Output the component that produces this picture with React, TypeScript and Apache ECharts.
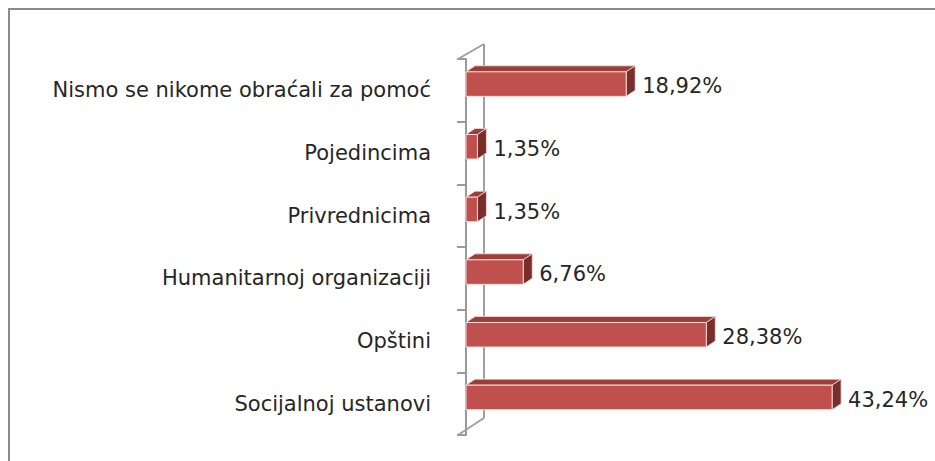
import React, { useEffect, useRef } from "react";
import * as echarts from "echarts";

const categories = [
  "Socijalnoj ustanovi",
  "Opštini",
  "Humanitarnoj organizaciji",
  "Privrednicima",
  "Pojedincima",
  "Nismo se nikome obraćali za pomoć",
];
const values = [43.24, 28.38, 6.76, 1.35, 1.35, 18.92];

const fmt = (v: number) => v.toFixed(2).replace(".", ",") + "%";

export default function App() {
  const ref = useRef<HTMLDivElement>(null);
  useEffect(() => {
    if (!ref.current) return;
    const chart = echarts.init(ref.current, null, { renderer: "svg" });
    const DX = 9;
    const DY = 6;
    chart.setOption({
      animation: false,
      backgroundColor: "#ffffff",
      grid: { left: 466, right: 88, top: 59, bottom: 26 },
      xAxis: { type: "value", min: 0, max: 45, show: false },
      yAxis: {
        type: "category",
        data: categories,
        offset: 8,
        axisLine: { show: true, lineStyle: { color: "#9a9a9a", width: 2 } },
        axisTick: { show: true, length: 9, lineStyle: { color: "#9a9a9a", width: 2 } },
        axisLabel: {
          margin: 27,
          fontFamily: "DejaVu Sans",
          fontSize: 21,
          color: "#262626",
        },
        splitLine: { show: false },
      },
      graphic: [
        {
          type: "rect",
          shape: { x: 9, y: 9, width: 1000, height: 1000 },
          style: { fill: "none", stroke: "#8a8a8a", lineWidth: 2 },
          silent: true,
        },
      ],
      series: [
        {
          type: "custom",
          coordinateSystem: "cartesian2d",
          data: [[0, 0]],
          encode: { x: 0, y: 1 },
          silent: true,
          z: 1,
          renderItem: (params: any, api: any) => {
            const p0 = api.coord([0, 0]);
            const pTop = api.coord([0, categories.length - 1]);
            const band = api.size([0, 1])[1];
            const x0 = p0[0];
            const yBottom = p0[1] + band / 2;
            const yTop = pTop[1] - band / 2;
            const fx = x0 - 8;
            const bx = x0 + 18;
            const style = { stroke: "#a0a0a0", lineWidth: 2, fill: "none" };
            return {
              type: "group",
              children: [
                { type: "line", shape: { x1: fx, y1: yTop, x2: bx, y2: yTop - 15 }, style },
                { type: "line", shape: { x1: bx, y1: yTop - 15, x2: bx, y2: yBottom - 17 }, style },
                { type: "line", shape: { x1: fx, y1: yBottom, x2: bx, y2: yBottom - 17 }, style },
              ],
            };
          },
        },
        {
          type: "custom",
          coordinateSystem: "cartesian2d",
          data: values.map((v, i) => [v, i]),
          encode: { x: 0, y: 1 },
          z: 2,
          renderItem: (params: any, api: any) => {
            const v = api.value(0);
            const idx = api.value(1);
            const s = api.coord([0, idx]);
            const e = api.coord([v, idx]);
            const cy = s[1];
            const x0 = s[0];
            const x1 = e[0];
            const top = cy - 18.5;
            const bot = cy + 6;
            return {
              type: "group",
              children: [
                {
                  type: "polygon",
                  shape: {
                    points: [
                      [x0, top],
                      [x0 + DX, top - DY],
                      [x1 + DX, top - DY],
                      [x1, top],
                    ],
                  },
                  style: { fill: "#9c3d3a", stroke: "#f2dcdb", lineWidth: 0.8 },
                },
                {
                  type: "polygon",
                  shape: {
                    points: [
                      [x1, top],
                      [x1 + DX, top - DY],
                      [x1 + DX, bot - DY],
                      [x1, bot],
                    ],
                  },
                  style: { fill: "#7a2e2c", stroke: "#f2dcdb", lineWidth: 0.8 },
                },
                {
                  type: "rect",
                  shape: { x: x0, y: top, width: x1 - x0, height: bot - top },
                  style: { fill: "#c0504d", stroke: "#f2dcdb", lineWidth: 1 },
                },
                {
                  type: "text",
                  style: {
                    text: fmt(v),
                    x: x1 + DX + 7,
                    y: cy - 4,
                    align: "left",
                    verticalAlign: "middle",
                    fill: "#262626",
                    fontFamily: "DejaVu Sans",
                    fontSize: 21,
                  },
                },
              ],
            };
          },
        },
      ],
    });
    return () => chart.dispose();
  }, []);
  return (
    <div
      ref={ref}
      style={{ position: "fixed", left: 0, top: 0, width: 935, height: 461 }}
    />
  );
}
